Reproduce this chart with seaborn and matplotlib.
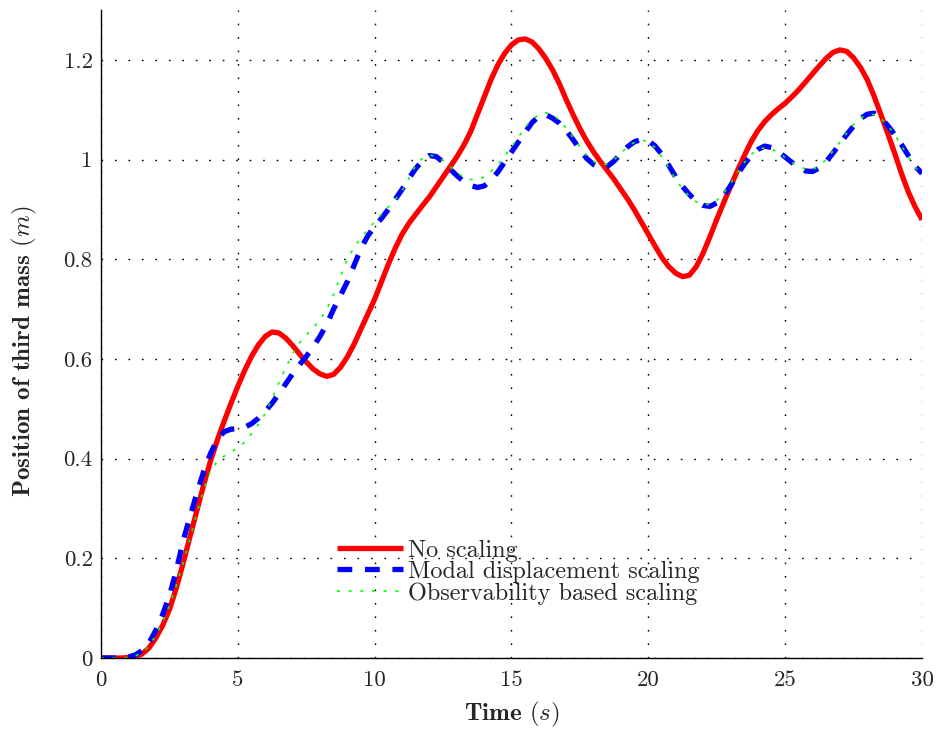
import numpy as np
import pandas as pd
import matplotlib
matplotlib.use("Agg")
import matplotlib.pyplot as plt
import seaborn as sns

time_s = np.linspace(0.0, 30.0, 121)

no_scaling = [
    0.0, 0.0, 0.0, 0.0, 0.001, 0.003, 0.008, 0.02, 0.04, 0.065, 0.097, 0.14,
    0.19, 0.243, 0.295, 0.347, 0.395, 0.437, 0.475, 0.511, 0.545, 0.577, 0.605, 0.628,
    0.645, 0.654, 0.652, 0.642, 0.627, 0.61, 0.594, 0.58, 0.57, 0.565, 0.569, 0.583,
    0.604, 0.63, 0.66, 0.69, 0.72, 0.755, 0.79, 0.822, 0.85, 0.872, 0.89, 0.908,
    0.925, 0.945, 0.965, 0.985, 1.005, 1.028, 1.055, 1.09, 1.125, 1.16, 1.19, 1.213,
    1.23, 1.24, 1.242, 1.236, 1.222, 1.203, 1.18, 1.152, 1.12, 1.09, 1.062, 1.037,
    1.015, 0.996, 0.978, 0.96, 0.94, 0.92, 0.898, 0.874, 0.85, 0.826, 0.803, 0.785,
    0.772, 0.765, 0.768, 0.785, 0.812, 0.845, 0.88, 0.913, 0.945, 0.977, 1.007, 1.035,
    1.058, 1.076, 1.09, 1.102, 1.113, 1.126, 1.14, 1.156, 1.172, 1.188, 1.203, 1.215,
    1.22, 1.217, 1.204, 1.185, 1.16, 1.127, 1.09, 1.052, 1.013, 0.972, 0.935, 0.905,
    0.879]

modal_disp = [
    0.0, 0.0, 0.0, 0.0, 0.002, 0.006, 0.015, 0.03, 0.055, 0.087, 0.125, 0.175,
    0.235, 0.283, 0.33, 0.374, 0.41, 0.438, 0.454, 0.459, 0.46, 0.463, 0.47, 0.481,
    0.495, 0.511, 0.53, 0.55, 0.57, 0.588, 0.605, 0.624, 0.645, 0.67, 0.70, 0.727,
    0.755, 0.788, 0.822, 0.847, 0.866, 0.882, 0.90, 0.92, 0.94, 0.962, 0.982, 0.998,
    1.008, 1.006, 0.995, 0.981, 0.968, 0.956, 0.948, 0.944, 0.947, 0.958, 0.975, 0.995,
    1.015, 1.035, 1.055, 1.074, 1.087, 1.09, 1.083, 1.073, 1.058, 1.04, 1.02, 1.002,
    0.99, 0.983, 0.986, 0.997, 1.012, 1.026, 1.036, 1.04, 1.038, 1.027, 1.01, 0.988,
    0.965, 0.946, 0.93, 0.916, 0.908, 0.906, 0.913, 0.927, 0.947, 0.97, 0.99, 1.008,
    1.02, 1.027, 1.024, 1.016, 1.005, 0.994, 0.984, 0.977, 0.976, 0.983, 0.996, 1.013,
    1.032, 1.05, 1.067, 1.082, 1.091, 1.093, 1.084, 1.068, 1.05, 1.03, 1.008, 0.987,
    0.972]

observ = [
    0.0, 0.0, 0.0, 0.0, 0.001, 0.004, 0.01, 0.024, 0.045, 0.072, 0.105, 0.145,
    0.19, 0.24, 0.29, 0.337, 0.375, 0.395, 0.405, 0.413, 0.422, 0.433, 0.45, 0.469,
    0.49, 0.52, 0.552, 0.583, 0.61, 0.632, 0.648, 0.662, 0.678, 0.70, 0.73, 0.765,
    0.80, 0.824, 0.843, 0.86, 0.875, 0.89, 0.905, 0.92, 0.937, 0.962, 0.988, 1.003,
    1.009, 1.006, 0.998, 0.986, 0.974, 0.965, 0.96, 0.96, 0.965, 0.976, 0.99, 1.007,
    1.025, 1.045, 1.065, 1.08, 1.09, 1.094, 1.09, 1.079, 1.063, 1.044, 1.025, 1.008,
    0.996, 0.99, 0.991, 1.0, 1.013, 1.026, 1.035, 1.039, 1.036, 1.024, 1.005, 0.983,
    0.96, 0.941, 0.926, 0.915, 0.91, 0.91, 0.918, 0.932, 0.951, 0.973, 0.993, 1.01,
    1.02, 1.024, 1.021, 1.014, 1.004, 0.994, 0.986, 0.981, 0.98, 0.987, 1.0, 1.017,
    1.035, 1.053, 1.07, 1.083, 1.09, 1.09, 1.083, 1.068, 1.05, 1.028, 1.005, 0.985,
    0.968]

series_labels = ["No scaling", "Modal displacement scaling", "Observability based scaling"]
x_ticks = [0, 5, 10, 15, 20, 25, 30]
y_ticks = [0, 0.2, 0.4, 0.6, 0.8, 1.0, 1.2]
y_tick_labels = ["0", "0.2", "0.4", "0.6", "0.8", "1", "1.2"]

# ---- style ----
sns.set_style("white")
plt.rcParams["font.family"] = ["cmr10", "DejaVu Serif"]
plt.rcParams["mathtext.fontset"] = "cm"
plt.rcParams["axes.unicode_minus"] = False
plt.rcParams["axes.formatter.use_mathtext"] = True

fig = plt.figure(figsize=(9.41, 7.36), dpi=100)
ax = fig.add_axes([101 / 941, 78 / 736, 821 / 941, 648 / 736])

df = pd.DataFrame({"t": time_s, "a": no_scaling, "b": modal_disp, "c": observ})

sns.lineplot(data=df, x="t", y="a", ax=ax, color="#ff0000", lw=3.8,
             label=series_labels[0], solid_capstyle="butt")
sns.lineplot(data=df, x="t", y="b", ax=ax, color="#0000ff", lw=3.8,
             linestyle=(0, (2.8, 2.4)), label=series_labels[1], dash_capstyle="butt")
sns.lineplot(data=df, x="t", y="c", ax=ax, color="#00ff00", lw=1.2,
             linestyle=(0, (1.8, 5.2)), label=series_labels[2], dash_capstyle="butt")

ax.set_xlim(0, 30)
ax.set_ylim(0, 1.3)
ax.set_xticks(x_ticks)
ax.set_xticklabels([str(v) for v in x_ticks])
ax.set_yticks(y_ticks)
ax.set_yticklabels(y_tick_labels)
ax.tick_params(axis="both", direction="in", length=5, width=0.8, labelsize=16.5,
               color="black")
ax.tick_params(axis="x", pad=9)
ax.tick_params(axis="y", pad=6)

ax.grid(True, color="black", linestyle=(0, (1.2, 8.5)), linewidth=1.0)
for s in ["top", "right"]:
    ax.spines[s].set_visible(False)
for s in ["left", "bottom"]:
    ax.spines[s].set_color("black")
    ax.spines[s].set_linewidth(1.0)

ax.set_xlabel(r"Time $\mathit{(s)}$", family="cmb10", fontsize=18, labelpad=7)
ax.set_ylabel(r"Position of third mass $\mathit{(m)}$", family="cmb10", fontsize=18)
ax.yaxis.set_label_coords(-0.076, 0.474)

leg = ax.legend(loc="upper left", bbox_to_anchor=(0.288, 0.183), frameon=False,
                fontsize=17.5, handlelength=2.7, handletextpad=0.2,
                labelspacing=-0.03, borderpad=0, borderaxespad=0)

fig.savefig("out.png", dpi=100)
